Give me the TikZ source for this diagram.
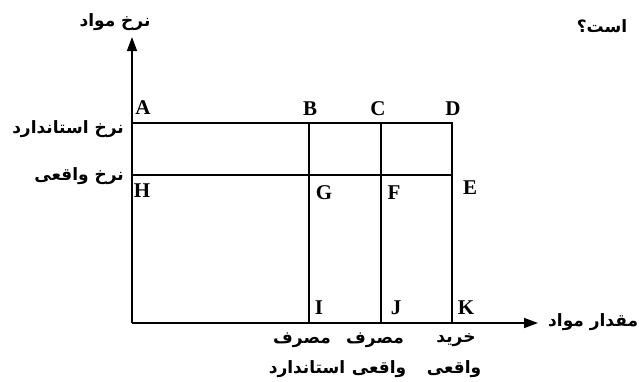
\documentclass[tikz,border=0pt]{standalone}
\usepackage{fontspec}
\setmainfont{Liberation Serif}
\newfontfamily\fa[Script=Arabic]{DejaVu Sans}
\TeXXeTstate=1
\usetikzlibrary{arrows.meta}
\begin{document}
\begin{tikzpicture}[x=1pt,y=-1pt,
  ln/.style={line width=1.3pt},
  ax/.style={line width=1.5pt,-{Triangle[length=14pt,width=10pt]}},
  lett/.style={font=\fontsize{21}{21}\selectfont\bfseries, inner sep=0pt},
  fat/.style={font=\fa\bfseries\fontsize{17}{17}\selectfont, inner sep=0pt}]
\useasboundingbox (0,0) rectangle (639,381);
\fill[white] (0,0) rectangle (639,381);
% coordinates
\coordinate (O) at (132,323);
\coordinate (Yt) at (132,37);
\coordinate (Xt) at (538,323);
\coordinate (a) at (132,123);
\coordinate (b) at (309,123);
\coordinate (c) at (381,123);
\coordinate (d) at (452,123);
\coordinate (h) at (132,175);
\coordinate (e) at (452,175);
\coordinate (i) at (309,323);
\coordinate (j) at (381,323);
\coordinate (k) at (452,323);
% lines
\draw[ax] (O) -- (Yt);
\draw[ax] (O) -- (Xt);
\draw[ln] (a) -- (d) -- (k);
\draw[ln] (h) -- (e);
\draw[ln] (b) -- (i);
\draw[ln] (c) -- (j);
% letters
\node[lett] (lA) at (143,108) {A};
\node[lett] (lB) at (310,109) {B};
\node[lett] (lC) at (378,109) {C};
\node[lett] (lD) at (453,109) {D};
\node[lett] (lH) at (142,191) {H};
\node[lett] (lG) at (324,193) {G};
\node[lett] (lF) at (394,193) {F};
\node[lett] (lE) at (470,188) {E};
\node[lett] (lI) at (319,308) {I};
\node[lett] (lJ) at (396,308) {J};
\node[lett] (lK) at (466,308) {K};
% persian labels
\node[fat] (ty) at (115,22) {\beginR نرخ مواد\endR};
\node[fat] (tq) at (602,26) {\beginR است؟\endR};
\node[fat,anchor=east] (ts) at (124,129) {\beginR نرخ استاندارد\endR};
\node[fat,anchor=east] (tr) at (124,176) {\beginR نرخ واقعی\endR};
\node[fat,anchor=west] (tx) at (548,322) {\beginR مقدار مواد\endR};
\node[fat] (m1) at (302,340) {\beginR مصرف\endR};
\node[fat] (m2) at (375,340) {\beginR مصرف\endR};
\node[fat] (m3) at (456,340) {\beginR خرید\endR};
\node[fat] (n1) at (307,369) {\beginR استاندارد\endR};
\node[fat] (n2) at (379,369) {\beginR واقعی\endR};
\node[fat] (n3) at (454,369) {\beginR واقعی\endR};
\end{tikzpicture}
\end{document}
